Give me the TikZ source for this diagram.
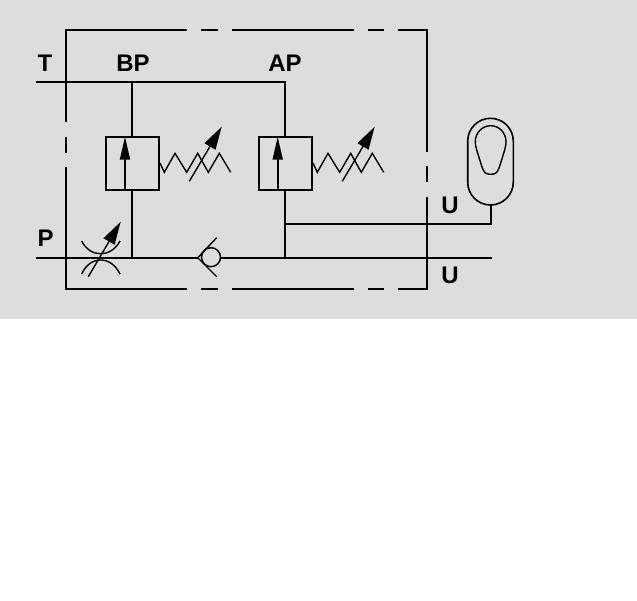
\documentclass[tikz,border=0pt]{standalone}
\usepackage{fontspec}
\setmainfont{Liberation Sans}
\usetikzlibrary{arrows.meta}
\definecolor{panel}{HTML}{DCDDDF}
\tikzset{
  line/.style={line width=2pt,black},
  thin line/.style={line width=1.4pt,black,line join=miter},
  lab/.style={font=\fontsize{24}{24}\bfseries\selectfont,anchor=base,inner sep=0pt,text=black},
  valvebox/.style={draw=black,line width=2pt,minimum width=53pt,minimum height=53.3pt,inner sep=0pt,outer sep=0pt},
  uparrow/.style={line width=1.8pt,-{Triangle[length=23pt,width=10pt,black]}},
  adjarrow/.style={line width=1.4pt,-{Triangle[length=23pt,width=12.5pt,black]}},
}
\begin{document}
\begin{tikzpicture}[x=1pt,y=-1pt]
\useasboundingbox (0,0) rectangle (637,600);
\fill[panel] (0,0) rectangle (637,319);
% enclosure
\coordinate (tl) at (65.7,29.7); \coordinate (tr) at (427,29.7);
\coordinate (bl) at (65.7,289); \coordinate (br) at (427,289);
\draw[line,line join=miter] (65.7,121.7) -- (tl) -- (186.7,29.7);
\draw[line] (201,29.7) -- (217.7,29.7);
\draw[line] (231.7,29.7) -- (354,29.7);
\draw[line] (368,29.7) -- (384.3,29.7);
\draw[line,line join=miter] (398,29.7) -- (tr) -- (427,151.7);
\draw[line] (427,166) -- (427,181.7);
\draw[line,line join=miter] (427,196.7) -- (br) -- (398,289);
\draw[line] (384.3,289) -- (368,289);
\draw[line] (354,289) -- (231.7,289);
\draw[line] (217.7,289) -- (201,289);
\draw[line,line join=miter] (186.7,289) -- (bl) -- (65.7,167.3);
\draw[line] (65.7,152.7) -- (65.7,137.3);
% valves
\node[valvebox] (vb) at (132.5,163.3) {};
\node[valvebox] (va) at (285.3,163.3) {};
% labels
\node[lab] (lT) at (45,71.7) {T};
\node[lab] (lBP) at (133,71.7) {BP};
\node[lab] (lAP) at (285,71.7) {AP};
\node[lab] (lP) at (45.7,246) {P};
\node[lab] (lU1) at (450,213) {U};
\node[lab] (lU2) at (450,283) {U};
% junctions
\coordinate (Tend) at (36,81.7);
\coordinate (Pend) at (36,257.7);
\coordinate (Pright) at (491.7,257.7);
\coordinate (jb) at (131.7,257.7);
\coordinate (ja) at (285,257.7);
\coordinate (ju) at (285,223.7);
\coordinate (acc) at (490.7,223.7);
\coordinate (cvtip) at (197.7,257.7);
\node[circle,draw=black,line width=1.5pt,minimum size=19pt,inner sep=0pt,outer sep=0pt] (cv) at (211,257.2) {};
% lines
\draw[line,line join=miter] (Tend) -- (285,81.7) -- (285,136.7);
\draw[line] (131.7,81.7) -- (131.7,136.7);
\draw[line] (131.7,190) -- (jb);
\draw[line] (Pend) -- (cvtip);
\draw[line] (220.5,257.7) -- (Pright);
\draw[line] (285,190) -- (ja);
\draw[line,line join=miter] (ju) -- (acc) -- (490.7,205);
% check valve V
\draw[thin line] (216.7,237.7) -- (cvtip) -- (216.7,276.7);
% valve arrows
\draw[uparrow] (125,190) -- (125,136.7);
\draw[uparrow] (277.7,190) -- (277.7,136.7);
% springs and adjustment arrows
\foreach \dx/\nm in {0/b,153/a}{
  \begin{scope}[xshift=\dx pt]
  \draw[thin line] (160,163) -- (164.3,172.3) -- (175,153.3) -- (186.7,172.3) -- (197.7,153.3) -- (208.3,172.3) -- (219.3,153.3) -- (230.7,172.3);
  \draw[adjarrow] (189.3,181.3) -- (221.7,126.7);
  \end{scope}
}
% throttle
\draw[thin line] (81.7,241) .. controls (90,258) and (111,258) .. (120,241);
\draw[thin line] (81.7,274) .. controls (90,255.3) and (111,255.3) .. (120,274);
\draw[adjarrow] (88.3,276.7) -- (120.7,221.7);
% accumulator
\draw[line width=1.6pt] (490.5,118.3) arc[start angle=-90,end angle=-180,radius=22.8] -- (467.7,182.2) arc[start angle=180,end angle=0,radius=22.8] -- (513.3,141.1) arc[start angle=0,end angle=-90,radius=22.8] -- cycle;
\draw[line width=1.4pt] (490.7,125.7) .. controls (482,125.7) and (475.3,133) .. (475.3,141.7) .. controls (475.3,146) and (476,148) .. (482,167) .. controls (484,173) and (486,174.3) .. (490.7,174.3) .. controls (495.4,174.3) and (497.4,173) .. (499.4,167) .. controls (505.4,148) and (506,146) .. (506,141.7) .. controls (506,133) and (499.4,125.7) .. (490.7,125.7) -- cycle;
\end{tikzpicture}
\end{document}
